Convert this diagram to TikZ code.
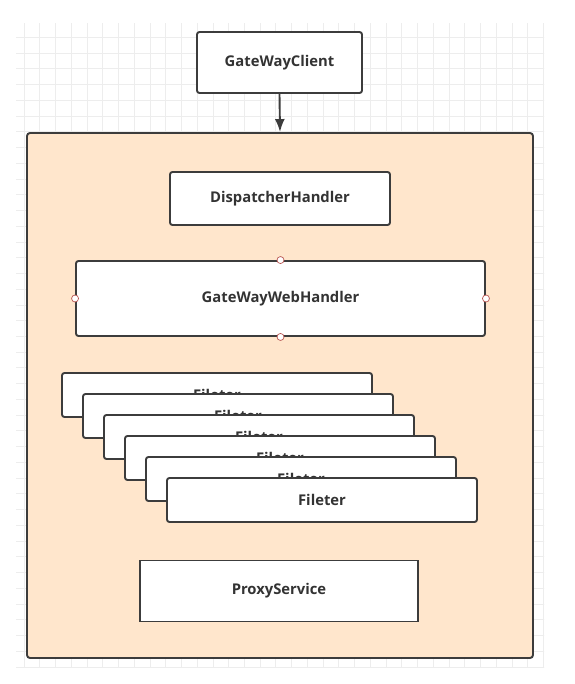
\documentclass[tikz,border=0pt]{standalone}
\usepackage{fontspec}
\setmainfont{Open Sans}
\usetikzlibrary{arrows.meta}
\usetikzlibrary{positioning}

\definecolor{boxline}{HTML}{3C3C3C}
\definecolor{boxtext}{HTML}{333333}
\definecolor{peach}{HTML}{FFE6CC}
\definecolor{gridline}{HTML}{EDEDED}
\definecolor{handle}{HTML}{B85450}

\begin{document}
\begin{tikzpicture}
    [x=1pt, y=-1pt,
     box/.style={rectangle, draw=boxline, fill=white, line width=1.9pt, rounded corners=2.5pt,
                 inner sep=0pt, text=boxtext, font=\fontsize{14.8}{17}\selectfont\bfseries},
     filt/.style={box, minimum width=310pt, minimum height=44pt},
     outer/.style={rectangle, draw=boxline, fill=peach, line width=1.9pt, rounded corners=3pt},
     dot/.style={circle, draw=handle, fill=white, line width=0.7pt, minimum size=7pt, inner sep=0pt},
     flow/.style={-{Latex[length=13pt, width=10pt]}, draw=boxline, line width=1.9pt}]

    \useasboundingbox [fill=white] (0,0) rectangle (574,684);

    % background grid
    \begin{scope}
        \clip (16,24) rectangle (544,667);
        \draw [gridline, line width=0.7pt, xstep=15.74pt, ystep=15.74pt, shift={(24,37.3)}]
            (-10,-15) grid (530,640);
    \end{scope}

    \node [outer, minimum width=506pt, minimum height=525pt] (gw) at (280,395.5) {};

    \node [box, minimum width=165pt, minimum height=61pt] (client) at (279.5,62.5) {GateWayClient};
    \node [box, minimum width=220pt, minimum height=53pt] (disp) at (280,198.5) {DispatcherHandler};
    \node [box, minimum width=409pt, minimum height=75pt] (web) at (280.5,298.5) {GateWayWebHandler};

    \node [filt] (f1) at (217,395) {Fileter};
    \node [filt] (f2) at ([xshift=21pt, yshift=-21pt] f1.center) {Fileter};
    \node [filt] (f3) at ([xshift=21pt, yshift=-21pt] f2.center) {Fileter};
    \node [filt] (f4) at ([xshift=21pt, yshift=-21pt] f3.center) {Fileter};
    \node [filt] (f5) at ([xshift=21pt, yshift=-21pt] f4.center) {Fileter};
    \node [filt] (f6) at ([xshift=21pt, yshift=-21pt] f5.center) {Fileter};

    \node [box, rounded corners=0pt, minimum width=278pt, minimum height=61pt] (proxy) at (279,591) {ProxyService};

    \draw [flow] (client.south) -- (gw.north);

    \node [dot] at (web.north) {};
    \node [dot] at (web.south) {};
    \node [dot] at (web.west) {};
    \node [dot] at (web.east) {};
\end{tikzpicture}
\end{document}
